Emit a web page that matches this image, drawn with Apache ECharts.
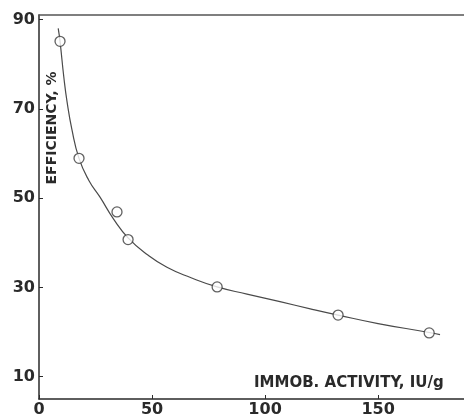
<!DOCTYPE html>
<html>
<head>
<meta charset="utf-8">
<script src="https://cdn.jsdelivr.net/npm/echarts@6/dist/echarts.min.js"></script>
<style>
    html, body { margin: 0; padding: 0; background: #fff; }
    #main { width: 464px; height: 418px; }
</style>
</head>
<body>
<div id="main"></div>
<script>
    // measured points (open circles)
    var activity = [9.3, 17.7, 34.5, 39.4, 78.8, 132.3, 172.6];
    var efficiency = [85.1, 58.9, 46.9, 40.7, 30.1, 23.8, 19.8];

    // hand-drawn fitted curve
    var curveX = [8.5, 9.3, 11, 12.4, 14.5, 17.7, 22, 27, 33, 39.4, 48, 56.6, 67, 78.8, 92, 106.6, 120, 132.3, 150, 172.6, 177.4];
    var curveY = [88, 85.1, 77, 71.6, 65.5, 58.9, 54, 50.2, 45.3, 41.1, 37.3, 34.5, 32.2, 30.1, 28.5, 26.8, 25.2, 23.8, 21.9, 19.9, 19.4];

    var xTicks = [0, 50, 100, 150];
    var yTicks = [10, 30, 50, 70, 90];

    var ink = '#2a2a2a';
    var font = 'DejaVu Sans';

    var scatterData = activity.map(function (x, i) { return [x, efficiency[i]]; });
    var curveData = curveX.map(function (x, i) { return [x, curveY[i]]; });

    var myChart = echarts.init(document.getElementById('main'));
    var option = {
        animation: false,
        backgroundColor: '#fff',
        grid: { left: 39, right: 0, top: 15, bottom: 19 },
        xAxis: [
            {
                type: 'value',
                min: 0,
                max: 188,
                axisLine: { lineStyle: { color: ink, width: 1.5 } },
                axisTick: { inside: true, length: 4, customValues: xTicks, lineStyle: { color: ink } },
                axisLabel: {
                    customValues: xTicks,
                    margin: 3,
                    color: ink,
                    fontFamily: font,
                    fontWeight: 'bold',
                    fontSize: 16
                },
                splitLine: { show: false }
            },
            {
                type: 'value',
                position: 'top',
                min: 0,
                max: 188,
                axisLine: { show: true, lineStyle: { color: '#555', width: 1.5 } },
                axisTick: { show: false },
                axisLabel: { show: false },
                splitLine: { show: false }
            }
        ],
        yAxis: {
            type: 'value',
            min: 5,
            max: 91,
            axisLine: { show: true, lineStyle: { color: ink, width: 1.5 } },
            axisTick: { show: true, inside: true, length: 4, customValues: yTicks, lineStyle: { color: ink } },
            axisLabel: {
                customValues: yTicks,
                margin: 4,
                color: ink,
                fontFamily: font,
                fontWeight: 'bold',
                fontSize: 16
            },
            splitLine: { show: false }
        },
        graphic: [
            {
                type: 'text',
                x: 45,
                y: 128,
                rotation: Math.PI / 2,
                style: {
                    text: 'EFFICIENCY, %',
                    fill: ink,
                    font: 'bold 14px "DejaVu Sans"',
                    align: 'center',
                    verticalAlign: 'top'
                }
            },
            {
                type: 'text',
                left: 254,
                top: 376,
                style: {
                    text: 'IMMOB. ACTIVITY, IU/g',
                    fill: ink,
                    font: 'bold 15px "DejaVu Sans"'
                }
            }
        ],
        series: [
            {
                type: 'line',
                data: curveData,
                smooth: 0.5,
                showSymbol: false,
                lineStyle: { color: '#4a4a4a', width: 1.2 },
                z: 2
            },
            {
                type: 'scatter',
                data: scatterData,
                symbol: 'circle',
                symbolSize: 10,
                itemStyle: { color: '#fff', borderColor: '#3a3a3a', borderWidth: 1.3 },
                z: 3
            }
        ]
    };
    myChart.setOption(option);
</script>
</body>
</html>
